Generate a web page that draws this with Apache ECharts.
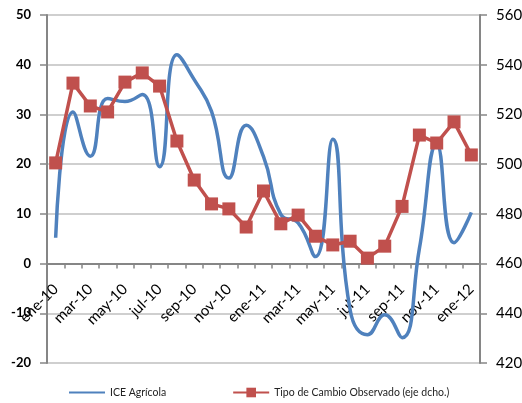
<!DOCTYPE html>
<html>
<head>
<meta charset="utf-8">
<script src="https://cdn.jsdelivr.net/npm/echarts@6/dist/echarts.min.js"></script>
<style>
  html, body { margin: 0; padding: 0; background: #fff; }
  #chart { width: 522px; height: 403px; }
</style>
</head>
<body>
<div id="chart"></div>
<script>
// Months, January 2010 to January 2012
const months = [
  'ene-10','feb-10','mar-10','abr-10','may-10','jun-10','jul-10','ago-10','sep-10','oct-10','nov-10','dic-10',
  'ene-11','feb-11','mar-11','abr-11','may-11','jun-11','jul-11','ago-11','sep-11','oct-11','nov-11','dic-11',
  'ene-12'
];

// ICE Agrícola (left axis)
const iceAgricola = [
  5.2, 30.5, 21.6, 33.2, 32.6, 34.0, 19.5, 42.0, 37.0, 30.6, 17.2, 27.8,
  21.5, 9.9, 8.2, 1.4, 25.0, -9.3, -14.3, -10.3, -14.9, 3.0, 24.0, 4.2,
  10.3
];

// Tipo de Cambio Observado (right axis)
const tipoCambio = [
  500.5, 532.6, 523.4, 521.0, 533.0, 536.7, 531.4, 509.3, 493.6, 484.0, 482.0, 474.7,
  489.2, 476.0, 479.5, 471.0, 467.5, 469.0, 462.2, 467.0, 483.0, 511.7, 508.5, 517.0,
  503.7
];

const leftTicks = { min: -20, max: 50, interval: 10 };
const rightTicks = { min: 420, max: 560, interval: 20 };

const FONT = 'Lato, "Open Sans", sans-serif';
const gridColor = '#bfbfbf';
const axisColor = '#868686';

const W = 522, H = 403;
const gridBox = { left: 47, right: 42, top: 15, bottom: 40 };
// Category axis sits on the left axis' zero line: shift it up from the grid bottom
const plotHeight = H - gridBox.top - gridBox.bottom;
const zeroOffset = plotHeight * (0 - leftTicks.min) / (leftTicks.max - leftTicks.min);

const chart = echarts.init(document.getElementById('chart'), null, { renderer: 'canvas' });

chart.setOption({
  animation: false,
  backgroundColor: '#ffffff',
  grid: Object.assign({ containLabel: false, outerBoundsMode: 'none' }, gridBox),
  legend: {
    bottom: 5,
    left: 68,
    padding: 0,
    itemWidth: 36,
    itemHeight: 12,
    itemGap: 66,
    textStyle: { fontFamily: FONT, fontSize: 10.5, color: '#222' },
    data: [
      { name: 'ICE Agrícola', itemStyle: { opacity: 0 } },
      { name: 'Tipo de Cambio Observado (eje dcho.)' }
    ]
  },
  xAxis: {
    type: 'category',
    data: months,
    boundaryGap: true,
    offset: -zeroOffset,
    axisLine: { onZero: false, lineStyle: { color: axisColor, width: 2 } },
    axisTick: { show: true, interval: 0, length: 5, lineStyle: { color: axisColor, width: 1.5 } },
    axisLabel: {
      interval: 1,
      rotate: 45,
      margin: 23,
      fontFamily: FONT,
      fontSize: 15,
      color: '#000'
    },
    splitLine: { show: false }
  },
  yAxis: [
    {
      type: 'value',
      position: 'left',
      min: leftTicks.min,
      max: leftTicks.max,
      interval: leftTicks.interval,
      axisLine: { show: true, lineStyle: { color: axisColor, width: 2 } },
      axisTick: { show: true, length: 7, lineStyle: { color: axisColor, width: 1.5 } },
      axisLabel: { margin: 16, fontFamily: FONT, fontSize: 13, fontWeight: 'bold', color: '#000' },
      splitLine: { show: true, lineStyle: { color: gridColor, width: 1.5 } }
    },
    {
      type: 'value',
      position: 'right',
      min: rightTicks.min,
      max: rightTicks.max,
      interval: rightTicks.interval,
      axisLine: { show: true, lineStyle: { color: axisColor, width: 2 } },
      axisTick: { show: true, length: 7, lineStyle: { color: axisColor, width: 1.5 } },
      axisLabel: { margin: 16, fontFamily: FONT, fontSize: 15, color: '#000' },
      splitLine: { show: false }
    }
  ],
  series: [
    {
      name: 'ICE Agrícola',
      type: 'line',
      yAxisIndex: 0,
      data: iceAgricola,
      smooth: 0.5,
      showSymbol: false,
      symbol: 'none',
      lineStyle: { color: '#4f81bd', width: 3.5 },
      itemStyle: { color: '#4f81bd' },
      z: 2
    },
    {
      name: 'Tipo de Cambio Observado (eje dcho.)',
      type: 'line',
      yAxisIndex: 1,
      data: tipoCambio,
      symbol: 'rect',
      symbolSize: 13,
      showAllSymbol: true,
      lineStyle: { color: '#c0504d', width: 3.5 },
      itemStyle: { color: '#c0504d' },
      z: 3
    }
  ]
});
</script>
</body>
</html>
